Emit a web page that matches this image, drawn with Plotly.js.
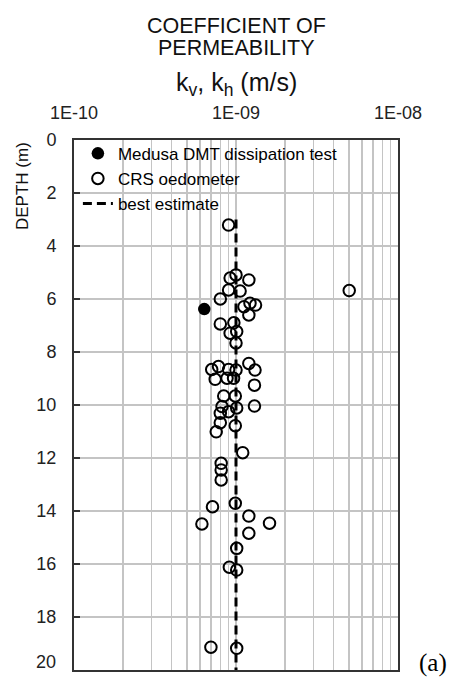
<!DOCTYPE html>
<html>
<head>
<meta charset="utf-8">
<script src="https://cdn.plot.ly/plotly-3.0.1.min.js"></script>
<style>
  html, body { margin: 0; padding: 0; background: #fff; }
  #chart { width: 463px; height: 677px; }
</style>
</head>
<body>
<div id="chart"></div>
<script>
// CRS oedometer results: depth (m) and permeability (m/s)
const crsDepth = [3.21, 5.09, 5.21, 5.28, 5.66, 5.70, 5.68, 6.00, 6.16, 6.23, 6.29, 6.60,
                  6.94, 6.90, 7.23, 7.29, 7.66,
                  8.43, 8.68, 8.68, 8.66, 8.55, 8.66, 9.03, 8.99, 8.99, 9.25, 9.66, 9.66,
                  10.04, 10.11, 10.06, 10.25, 10.31, 10.67, 10.78, 11.01, 11.80,
                  12.20, 12.45, 12.83, 13.71, 13.84, 14.19, 14.49, 14.46, 14.84,
                  15.41, 16.12, 16.23, 19.14, 19.18];
const crsK = [9.0e-10, 1.0e-9, 9.2e-10, 1.2e-9, 9.0e-10, 1.06e-9, 5.0e-9, 8.0e-10, 1.22e-9, 1.32e-9, 1.12e-9, 1.2e-9,
              8.0e-10, 9.7e-10, 1.01e-9, 9.2e-10, 1.0e-9,
              1.2e-9, 1.31e-9, 1.0e-9, 7.08e-10, 7.8e-10, 9.0e-10, 7.44e-10, 8.8e-10, 9.66e-10, 1.3e-9, 8.4e-10, 9.9e-10,
              1.3e-9, 1.01e-9, 8.2e-10, 9.0e-10, 8.0e-10, 8.0e-10, 9.9e-10, 7.55e-10, 1.1e-9,
              8.1e-10, 8.1e-10, 8.1e-10, 9.9e-10, 7.16e-10, 1.2e-9, 6.16e-10, 1.61e-9, 1.2e-9,
              1.01e-9, 9.1e-10, 1.01e-9, 7.0e-10, 1.01e-9];

// Medusa DMT dissipation test
const dmtDepth = [6.38];
const dmtK = [6.37e-10];

// Best-estimate profile
const bestDepth = [3.0, 20.0];
const bestK = [1.0e-9, 1.0e-9];

// Axis ticks (the last depth label is placed separately, lifted off the frame)
const depthTicks = [0, 2, 4, 6, 8, 10, 12, 14, 16, 18, 20];
const depthTickText = ['0', '2', '4', '6', '8', '10', '12', '14', '16', '18', ''];
const kTickVals = [1e-10, 2e-10, 3e-10, 4e-10, 5e-10, 6e-10, 7e-10, 8e-10, 9e-10,
                   1e-9, 2e-9, 3e-9, 4e-9, 5e-9, 6e-9, 7e-9, 8e-9, 9e-9, 1e-8];
const kTickText = ['1E-10', '', '', '', '', '', '', '', '',
                   '1E-09', '', '', '', '', '', '', '', '', '1E-08'];

const FONT = 'Liberation Sans, Arial, sans-serif';

const traces = [
  {
    name: 'Medusa DMT dissipation test',
    x: dmtK, y: dmtDepth,
    type: 'scatter', mode: 'markers',
    marker: { symbol: 'circle', size: 12.5, color: '#000' }
  },
  {
    name: 'CRS oedometer',
    x: crsK, y: crsDepth,
    type: 'scatter', mode: 'markers',
    marker: { symbol: 'circle-open', size: 11.5, color: '#000', line: { width: 2, color: '#000' } }
  },
  {
    name: 'best estimate',
    x: bestK, y: bestDepth,
    type: 'scatter', mode: 'lines',
    line: { color: '#000', width: 3, dash: '9px,5px' }
  }
];

const layout = {
  width: 463, height: 677,
  margin: { l: 74, r: 65, t: 140, b: 7 },
  paper_bgcolor: '#fff', plot_bgcolor: '#fff',
  showlegend: true,
  font: { family: FONT, color: '#000' },
  xaxis: {
    type: 'log', side: 'top', range: [-10, -8],
    tickmode: 'array', tickvals: kTickVals, ticktext: kTickText,
    ticks: '', ticklabelstandoff: 12,
    tickfont: { size: 18, family: FONT, color: '#222' },
    showgrid: true, gridcolor: '#c4c4c4', gridwidth: 1.5,
    showline: true, linecolor: '#333', linewidth: 2, mirror: true,
    zeroline: false
  },
  yaxis: {
    range: [20, 0],
    tickmode: 'array', tickvals: depthTicks, ticktext: depthTickText,
    ticks: 'inside', ticklen: 6, tickwidth: 2, tickcolor: '#333',
    ticklabelstandoff: 12,
    tickfont: { size: 18, family: FONT, color: '#222' },
    showgrid: true, gridcolor: '#c4c4c4', gridwidth: 1.5,
    showline: true, linecolor: '#333', linewidth: 2, mirror: true,
    zeroline: false
  },
  legend: {
    x: 0.012, y: 1.008, xanchor: 'left', yanchor: 'top',
    bgcolor: 'rgba(255,255,255,0)', borderwidth: 0,
    font: { size: 17, family: FONT, color: '#000' },
    itemwidth: 30
  },
  // white panel behind the legend entries, masking the grid there
  shapes: [
    { type: 'rect', xref: 'paper', yref: 'paper', x0: 0, x1: 0.9, y0: 0.86, y1: 1,
      layer: 'between', fillcolor: '#fff', line: { width: 0 } }
  ],
  annotations: [
    { text: 'COEFFICIENT OF', xref: 'paper', yref: 'paper', x: 0.5, y: 1, yshift: 114,
      showarrow: false, font: { size: 21.5, family: FONT, color: '#111' }, yanchor: 'middle' },
    { text: 'PERMEABILITY', xref: 'paper', yref: 'paper', x: 0.5, y: 1, yshift: 92,
      showarrow: false, font: { size: 21.5, family: FONT, color: '#111' }, yanchor: 'middle' },
    { text: 'k<sub>v</sub>, k<sub>h</sub> (m/s)', xref: 'paper', yref: 'paper', x: 0.5, y: 1, yshift: 56,
      showarrow: false, font: { size: 25, family: FONT, color: '#111' }, yanchor: 'middle' },
    { text: 'DEPTH (m)', xref: 'paper', yref: 'paper', x: 0, xshift: -52, y: 1, yshift: -46,
      textangle: -90, showarrow: false, font: { size: 17, family: FONT, color: '#111' },
      xanchor: 'center', yanchor: 'middle' },
    { text: '20', xref: 'paper', yref: 'y', x: 0, xshift: -16, y: 20, yshift: 8,
      showarrow: false, font: { size: 18, family: FONT, color: '#222' },
      xanchor: 'right', yanchor: 'middle' },
    { text: '(a)', xref: 'paper', yref: 'paper', x: 1, xshift: 35, y: 0, yshift: 7,
      showarrow: false, font: { size: 25, family: 'Liberation Serif, Times New Roman, serif', color: '#000' },
      xanchor: 'center', yanchor: 'middle' }
  ]
};

Plotly.newPlot('chart', traces, layout, { displayModeBar: false, staticPlot: true });
</script>
</body>
</html>
